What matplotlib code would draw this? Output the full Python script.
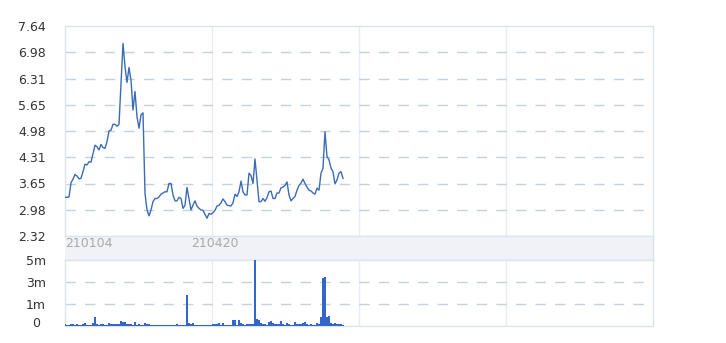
import matplotlib
matplotlib.use("Agg")
import matplotlib.pyplot as plt
import matplotlib.transforms as mtransforms
import numpy as np

# ---- data ----
price = [3.30, 3.30, 3.31, 3.67, 3.76, 3.88, 3.84, 3.77, 3.78, 3.95,
         4.14, 4.12, 4.20, 4.19, 4.41, 4.62, 4.58, 4.50, 4.64, 4.56,
         4.54, 4.71, 4.98, 5.00, 5.15, 5.15, 5.10, 5.15, 6.19, 7.20,
         6.61, 6.21, 6.59, 6.27, 5.51, 5.98, 5.34, 5.05, 5.39, 5.44,
         3.40, 2.98, 2.83, 2.98, 3.19, 3.27, 3.27, 3.31, 3.38, 3.41,
         3.44, 3.44, 3.65, 3.65, 3.36, 3.21, 3.21, 3.30, 3.27, 3.02,
         3.10, 3.55, 3.27, 2.98, 3.10, 3.21, 3.08, 3.02, 2.98, 2.97,
         2.87, 2.77, 2.89, 2.87, 2.91, 2.97, 3.08, 3.10, 3.16, 3.26,
         3.19, 3.10, 3.09, 3.08, 3.16, 3.38, 3.32, 3.44, 3.71, 3.44,
         3.36, 3.36, 3.91, 3.85, 3.65, 4.27, 3.74, 3.19, 3.19, 3.27,
         3.20, 3.29, 3.44, 3.46, 3.27, 3.27, 3.41, 3.41, 3.54, 3.56,
         3.60, 3.69, 3.36, 3.21, 3.27, 3.32, 3.48, 3.60, 3.66, 3.76,
         3.65, 3.56, 3.48, 3.46, 3.41, 3.38, 3.53, 3.48, 3.91, 4.04,
         4.96, 4.33, 4.25, 4.04, 3.95, 3.64, 3.74, 3.91, 3.95, 3.78]

volume_m = [0.13, 0.08, 0.08, 0.13, 0.13, 0.05, 0.13, 0.05, 0.05, 0.13,
            0.20, 0.05, 0.05, 0.05, 0.20, 0.66, 0.13, 0.05, 0.13, 0.13,
            0.05, 0.05, 0.20, 0.13, 0.13, 0.13, 0.13, 0.13, 0.35, 0.28,
            0.28, 0.13, 0.13, 0.13, 0.05, 0.28, 0.05, 0.13, 0.05, 0.05,
            0.20, 0.13, 0.13, 0.08, 0.08, 0.08, 0.08, 0.08, 0.08, 0.05,
            0.05, 0.05, 0.05, 0.05, 0.05, 0.05, 0.13, 0.05, 0.05, 0.05,
            0.05, 2.35, 0.20, 0.13, 0.20, 0.05, 0.05, 0.05, 0.05, 0.05,
            0.05, 0.05, 0.05, 0.05, 0.13, 0.13, 0.13, 0.20, 0.05, 0.20,
            0.05, 0.05, 0.05, 0.05, 0.43, 0.43, 0.05, 0.43, 0.25, 0.13,
            0.05, 0.13, 0.13, 0.13, 0.13, 5.00, 0.50, 0.43, 0.20, 0.13,
            0.13, 0.05, 0.28, 0.35, 0.20, 0.13, 0.13, 0.13, 0.35, 0.13,
            0.05, 0.20, 0.13, 0.05, 0.05, 0.28, 0.13, 0.13, 0.13, 0.20,
            0.28, 0.13, 0.05, 0.13, 0.05, 0.05, 0.20, 0.13, 0.66, 3.65,
            3.75, 0.66, 0.73, 0.20, 0.13, 0.20, 0.13, 0.13, 0.13, 0.05]

price_tick_labels = ["2.32", "2.98", "3.65", "4.31", "4.98", "5.65", "6.31", "6.98", "7.64"]
volume_tick_labels = ["0", "1m", "3m", "5m"]
date_labels = ["210104", "210420"]

# ---- styling ----
W, H = 726, 343
fig = plt.figure(figsize=(W / 100, H / 100), dpi=100)
L, R = 65, 653
def fx(px):
    return px / W
def fy(py):
    return 1 - py / H

BORDER = "#dce5ec"
GRID = "#c3d2dd"
VGRID = "#e9edf1"
LINE = "#3a6cb6"
BAR = "#3366cc"
TXT = "#333333"
dash = (0, (7.5, 6.6))

n_slots = (R - L) / 2.0
x = np.arange(len(price))
vlines = [n_slots / 4, n_slots / 2, 3 * n_slots / 4]

ax = fig.add_axes([fx(L), fy(236), fx(R - L), (236 - 26) / H])
axb = fig.add_axes([fx(L), fy(260), fx(R - L), (260 - 236) / H])
axv = fig.add_axes([fx(L), fy(326), fx(R - L), (326 - 260) / H])

for a in (ax, axb, axv):
    a.set_xlim(0, n_slots)
    for s in a.spines.values():
        s.set_color(BORDER)
        s.set_linewidth(1.0)
    a.tick_params(length=0)

# price panel
ptick_pos = [float(t) for t in price_tick_labels]
ax.set_ylim(ptick_pos[0], ptick_pos[-1])
for yv in ptick_pos[1:-1]:
    ax.axhline(yv, color=GRID, lw=1.0, ls=dash, zorder=1)
for xv in vlines:
    ax.axvline(xv, color=VGRID, lw=1.0, zorder=0)
ax.plot(x, price, color=LINE, lw=1.0, zorder=3)
ax.set_yticks(ptick_pos)
ax.set_yticklabels(price_tick_labels)
ax.tick_params(axis="y", pad=19 * 0.72, labelsize=9, labelcolor=TXT)
ax.set_xticks([])

# label band
axb.set_facecolor("#f0f2f7")
axb.set_yticks([])
axb.set_ylim(0, 1)
axb.set_xticks([0, 75])
axb.set_xticklabels(date_labels)
axb.tick_params(axis="x", direction="in", pad=-16.5, labelsize=9, labelcolor="#aaaaaa")
tl = axb.get_xticklabels()
tl[0].set_ha("left")
axb.spines["left"].set_visible(False)
axb.spines["right"].set_color(BORDER)

# volume panel
vmax = 5.0
axv.set_ylim(0, vmax)
vt = [0, vmax / 3, 2 * vmax / 3, vmax]
for yv in vt[1:-1]:
    axv.axhline(yv, color=GRID, lw=1.0, ls=dash, zorder=1)
for xv in vlines:
    axv.axvline(xv, color=VGRID, lw=1.0, zorder=0)
axv.bar(x, volume_m, width=0.6, color=BAR, zorder=3)
axv.set_yticks(vt)
axv.set_yticklabels(volume_tick_labels)
axv.tick_params(axis="y", pad=29 * 0.72, labelsize=9, labelcolor=TXT)
for t in axv.get_yticklabels():
    t.set_ha("center")
zero_lbl = axv.get_yticklabels()[0]
zero_lbl.set_transform(zero_lbl.get_transform() +
                       mtransforms.ScaledTranslation(0, 4 / 100, fig.dpi_scale_trans))
axv.set_xticks([])

fig.savefig("out.png", dpi=100, facecolor="white")
